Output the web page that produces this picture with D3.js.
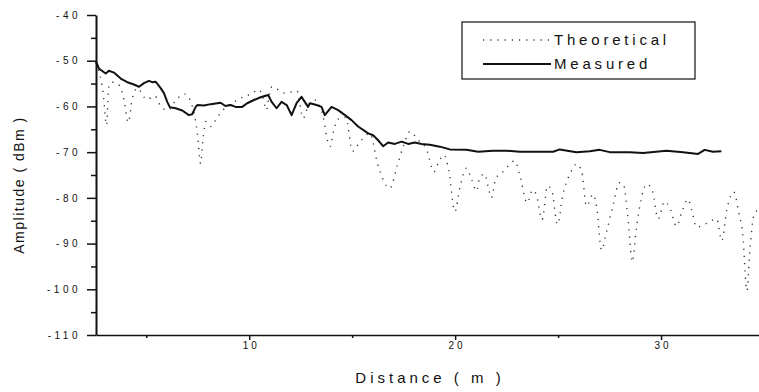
<!DOCTYPE html>
<html>
    <head>
        <meta charset="utf-8">
        <script src="https://d3js.org/d3.v7.min.js"></script>
        <style>
            body { margin: 0; background: #fff; }
            #vizBody text { font-family: Arial, "Liberation Sans", sans-serif; fill: #111; }
        </style>
    </head>
    <body>
        <div id="vizBody"></div>
    </body>
    <script>
        //measured curve (distance in m, amplitude in dBm)
        let measuredDist = [2.56,2.70,3.03,3.19,3.43,3.76,4.08,4.40,4.65,4.89,5.13,5.29,5.46,5.70,5.86,6.02,6.15,6.43,6.75,7.07,
                            7.23,7.40,7.48,7.80,8.13,8.61,8.85,9.10,9.34,9.66,9.90,10.23,10.55,10.92,11.09,11.33,11.57,11.82,12.06,12.30,
                            12.54,12.70,12.86,12.95,13.27,13.51,13.67,14.0,14.32,14.65,14.97,15.29,15.78,16.02,16.26,16.50,16.75,17.07,17.40,17.72,
                            18.04,18.37,18.77,19.26,19.74,20.55,21.12,21.84,22.50,23.14,23.95,24.76,25.08,25.89,26.54,27.02,27.51,28.48,29.13,30.26,
                            31.07,31.80,32.12,32.52,32.93];
        let measuredAmp = [-50.2,-51.7,-52.8,-52.2,-52.6,-53.9,-54.7,-55.2,-55.7,-54.9,-54.4,-54.7,-54.6,-56.0,-57.1,-59.0,-60.2,-60.4,-60.9,-61.9,
                           -61.7,-60.1,-59.7,-59.8,-59.5,-59.2,-59.9,-59.7,-60.1,-60.1,-59.3,-58.6,-58.0,-57.5,-59.0,-60.4,-59.0,-59.7,-61.9,-59.3,
                           -57.9,-59.0,-60.1,-59.3,-59.7,-60.1,-61.9,-60.1,-60.8,-61.9,-63.0,-64.4,-65.9,-66.3,-67.4,-68.7,-67.9,-68.2,-67.7,-68.2,
                           -67.9,-68.2,-68.4,-68.8,-69.4,-69.5,-69.9,-69.7,-69.7,-69.9,-69.9,-69.9,-69.4,-70.0,-69.8,-69.5,-70.0,-70.0,-70.2,-69.7,
                           -70.0,-70.4,-69.5,-69.9,-69.8];

        //theoretical curve
        let theoDist = [2.56,2.75,2.91,3.07,3.19,3.38,3.72,3.92,4.13,4.31,4.56,5.03,5.42,5.67,6.05,6.44,6.88,7.22,7.48,7.64,
                        7.75,7.90,8.14,8.34,8.61,9.42,10.15,10.47,10.67,10.84,10.96,11.10,11.73,12.32,12.62,12.90,13.24,13.53,13.92,14.11,
                        14.31,14.69,15.02,15.37,15.86,16.25,16.83,17.20,17.51,17.80,18.19,18.61,18.97,19.16,19.45,19.69,19.99,20.23,20.55,20.81,
                        21.04,21.20,21.44,21.64,21.76,21.98,22.32,22.90,23.14,23.50,23.76,23.95,24.22,24.49,24.69,24.97,25.23,25.57,25.91,26.15,
                        26.38,26.70,26.88,27.11,27.36,27.70,27.96,28.17,28.38,28.61,28.77,28.97,29.31,29.60,29.85,30.18,30.42,30.75,31.01,31.31,
                        31.49,31.72,32.20,32.70,32.95,33.19,33.53,33.77,33.97,34.17,34.31,34.50,34.74,34.99];
        let theoAmp = [-50.5,-53.1,-57.1,-64.1,-55.3,-54.7,-55.5,-58.6,-63.5,-58.6,-56.0,-58.5,-57.7,-59.7,-60.9,-58.6,-57.3,-59.7,-65.8,-72.5,
                       -67.3,-63.3,-64.4,-63.2,-61.4,-58.6,-57.1,-56.3,-58.2,-60.8,-57.9,-55.7,-57.1,-56.6,-62.6,-59.5,-58.6,-61.2,-68.8,-65.2,
                       -62.8,-62.4,-69.8,-67.8,-65.9,-72.8,-77.9,-72.8,-68.4,-65.5,-67.3,-69.4,-74.3,-72.6,-70.6,-73.9,-83.0,-77.8,-73.5,-76.1,
                       -78.5,-75.5,-74.8,-78.3,-80.0,-75.7,-74.3,-71.9,-75.0,-81.1,-78.3,-79.4,-84.8,-77.4,-78.3,-85.8,-79.4,-74.8,-72.6,-74.3,
                       -81.8,-79.2,-82.2,-91.4,-87.3,-81.1,-76.7,-77.0,-83.8,-94.0,-87.9,-81.8,-77.0,-78.7,-84.6,-80.8,-82.1,-86.2,-83.1,-80.3,
                       -82.7,-86.4,-85.6,-84.6,-89.4,-82.7,-78.7,-83.1,-88.1,-100.3,-91.8,-84.0,-82.3,-80.5];

        //ticks
        let yTicks = [-110,-100,-90,-80,-70,-60,-50,-40];
        let yMinor = [-105,-95,-85,-75,-65,-55,-45];
        let xTicks = [10,20,30];
        let xMinor = [5,15,25,35];
        let seriesNames = ["Theoretical","Measured"];

        let margin = {top: 15, left: 96},
            maxWidth = 759,
            maxHeight = 392,
            width = 668, //plot runs off the right edge like the scan
            height = 320;

        let svg = d3.select("#vizBody")
                    .append("svg")
                        .attr("width", maxWidth)
                        .attr("height", maxHeight);
        let viz = svg.append("g")
                     .attr("transform", "translate(" + margin.left + "," + margin.top + ")");

        let xScale = d3.scaleLinear().domain([2.56, 35]).range([0, width]);
        let yScale = d3.scaleLinear().domain([-110, -40]).range([height, 0]);

        //minor ticks first, then the major axes on top
        viz.append("g")
           .attr("transform", "translate(0," + height + ")")
           .call(d3.axisBottom(xScale).tickValues(xMinor).tickSize(3).tickFormat(""))
           .call(g => g.select(".domain").remove());
        viz.append("g")
           .call(d3.axisLeft(yScale).tickValues(yMinor).tickSize(5).tickFormat(""))
           .call(g => g.select(".domain").remove());

        let xAxis = viz.append("g")
                       .attr("transform", "translate(0," + height + ")")
                       .call(d3.axisBottom(xScale).tickValues(xTicks).tickSize(5).tickPadding(2).tickSizeOuter(0)
                               .tickFormat(d => String(d)));
        let yAxis = viz.append("g")
                       .call(d3.axisLeft(yScale).tickValues(yTicks).tickSize(9).tickPadding(6).tickSizeOuter(0)
                               .tickFormat(d => "-" + Math.abs(d)));

        viz.selectAll(".tick line").attr("stroke", "#111").attr("stroke-width", 1.5);
        xAxis.select(".domain").attr("stroke", "#111").attr("stroke-width", 1.6);
        yAxis.select(".domain").attr("stroke", "#111").attr("stroke-width", 2);
        xAxis.selectAll("text").style("font-size", "10px").style("letter-spacing", "3px").attr("dx", "1.5px");
        yAxis.selectAll("text").style("font-size", "10px").style("letter-spacing", "3.5px");

        //axis titles
        svg.append("text")
           .attr("transform", "translate(24,185) rotate(-90)")
           .attr("text-anchor", "middle")
           .style("font-size", "14px")
           .style("letter-spacing", "1.5px")
           .text("Amplitude ( dBm )");
        svg.append("text")
           .attr("x", 430)
           .attr("y", 383)
           .attr("text-anchor", "middle")
           .style("font-size", "15px")
           .style("letter-spacing", "4px")
           .text("Distance ( m )");

        //curves
        let theoLine = d3.line()
                         .x((d, i) => xScale(theoDist[i]))
                         .y(d => yScale(d))
                         .curve(d3.curveMonotoneX);
        let measLine = d3.line()
                         .x((d, i) => xScale(measuredDist[i]))
                         .y(d => yScale(d));

        viz.append("path")
           .datum(theoAmp)
           .attr("d", theoLine)
           .attr("fill", "none")
           .attr("stroke", "#333")
           .attr("stroke-width", 1.4)
           .attr("stroke-dasharray", "1.2 6");
        viz.append("path")
           .datum(measuredAmp)
           .attr("d", measLine)
           .attr("fill", "none")
           .attr("stroke", "#111")
           .attr("stroke-width", 2)
           .attr("stroke-linejoin", "round");

        //legend
        let legend = svg.append("g").attr("transform", "translate(462,22)");
        legend.append("rect")
              .attr("width", 233)
              .attr("height", 57)
              .attr("fill", "#fff")
              .attr("stroke", "#111")
              .attr("stroke-width", 1.2);
        let rows = legend.selectAll(".row")
                         .data(seriesNames)
                         .join("g")
                         .attr("transform", (d, i) => "translate(0," + (18 + i * 24) + ")");
        rows.append("line")
            .attr("x1", 21).attr("x2", 89)
            .attr("stroke", (d, i) => i == 0 ? "#333" : "#111")
            .attr("stroke-width", (d, i) => i == 0 ? 1.4 : 2)
            .attr("stroke-dasharray", (d, i) => i == 0 ? "1.2 6" : null);
        rows.append("text")
            .attr("x", 92)
            .attr("dy", "0.36em")
            .style("font-size", "15px")
            .style("letter-spacing", "3.8px")
            .text(d => d);
    </script>
</html>
